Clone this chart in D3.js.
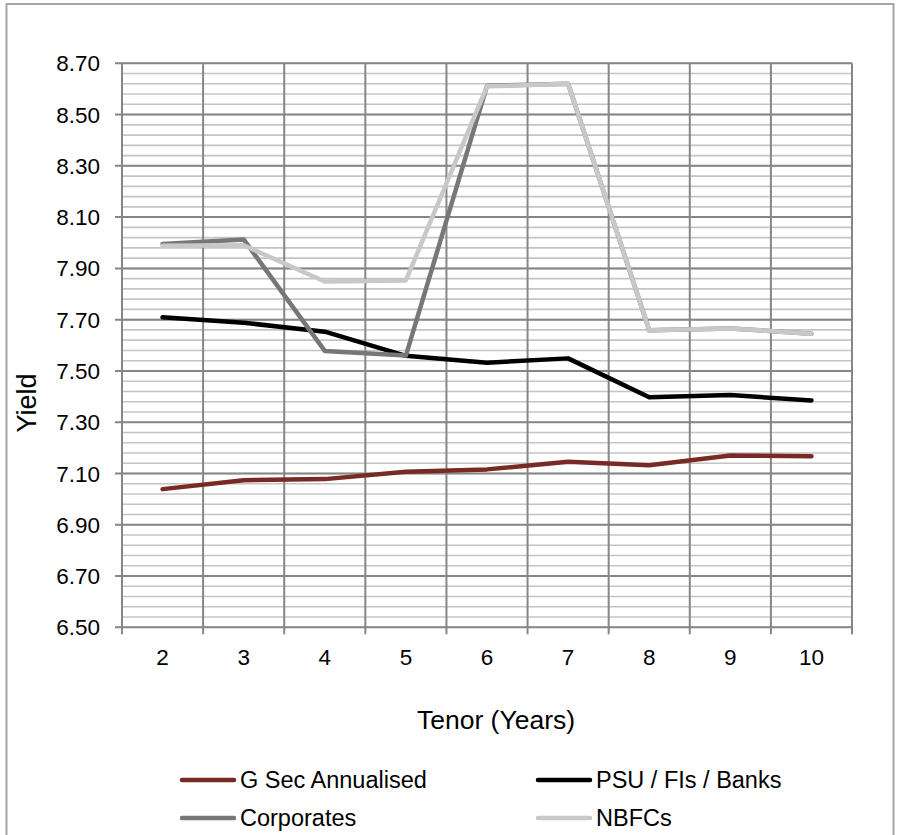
<!DOCTYPE html>
<html><head><meta charset="utf-8">
<script src="https://cdn.jsdelivr.net/npm/d3@7"></script>
<style>body{margin:0;background:#fff}svg{display:block;font-family:"Liberation Sans",Arial,sans-serif}</style>
</head><body><svg id="c" width="897" height="835"></svg>
<script>
const tenors = [2,3,4,5,6,7,8,9,10];
const gsec = [7.039,7.074,7.078,7.107,7.116,7.146,7.132,7.170,7.167];
const psu = [7.709,7.688,7.653,7.559,7.532,7.549,7.397,7.406,7.385];
const corporates = [7.995,8.013,7.578,7.560,8.612,8.620,7.659,7.666,7.645];
const nbfcs = [7.988,7.990,7.849,7.853,8.610,8.620,7.659,7.666,7.645];
const seriesNames = ["G Sec Annualised","PSU / FIs / Banks","Corporates","NBFCs"];
const seriesColors = ["#7a2a24","#000000","#777777","#c8c8c8"];
const yTicks = [6.5,6.7,6.9,7.1,7.3,7.5,7.7,7.9,8.1,8.3,8.5,8.7];

const svg = d3.select("#c");
svg.append("rect").attr("x",6.5).attr("y",4).attr("width",887).attr("height",845)
  .attr("fill","none").attr("stroke","#a6a6a6").attr("stroke-width",2);

const L=122,R=852,T=63.3,B=627.3;
const x = d3.scaleBand().domain(tenors).range([L,R]);
const y = d3.scaleLinear().domain([6.5,8.7]).range([B,T]);

// minor gridlines
const minor = d3.range(6.5,8.7001,0.04).map(v=>+v.toFixed(2));
svg.append("g").selectAll("line").data(minor).join("line")
  .attr("x1",L).attr("x2",R).attr("y1",d=>y(d)).attr("y2",d=>y(d))
  .attr("stroke","#c4c4c4").attr("stroke-width",1.6);
// major gridlines
svg.append("g").selectAll("line").data(yTicks).join("line")
  .attr("x1",L-7).attr("x2",R).attr("y1",d=>y(d)).attr("y2",d=>y(d))
  .attr("stroke","#868686").attr("stroke-width",2);
// vertical gridlines at category boundaries
const bounds = tenors.map(t=>x(t)).concat([R]);
svg.append("g").selectAll("line").data(bounds).join("line")
  .attr("x1",d=>d).attr("x2",d=>d).attr("y1",T).attr("y2",B+7)
  .attr("stroke","#868686").attr("stroke-width",2);

// y tick labels
svg.append("g").selectAll("text").data(yTicks).join("text")
  .attr("x",100).attr("y",d=>y(d)).attr("dy","0.36em").attr("text-anchor","end")
  .attr("font-size",22.5).attr("fill","#000").text(d=>d.toFixed(2));
// x tick labels
svg.append("g").selectAll("text").data(tenors).join("text")
  .attr("x",d=>x(d)+x.bandwidth()/2).attr("y",665).attr("text-anchor","middle")
  .attr("font-size",22.5).attr("fill","#000").text(d=>d);

// axis titles
svg.append("text").attr("x",496).attr("y",729).attr("text-anchor","middle")
  .attr("font-size",26.5).text("Tenor (Years)");
svg.append("text").attr("transform","translate(36,403) rotate(-90)").attr("text-anchor","middle")
  .attr("font-size",27).text("Yield");

// lines
const data = [gsec,psu,corporates,nbfcs];
const line = d3.line().x((d,i)=>x(tenors[i])+x.bandwidth()/2).y(d=>y(d));
svg.append("g").selectAll("path").data(data).join("path")
  .attr("d",line).attr("fill","none").attr("stroke",(d,i)=>seriesColors[i])
  .attr("stroke-width",4.5).attr("stroke-linejoin","round").attr("stroke-linecap","round");

// legend
const legPos = [[182,780],[538,780],[182,818],[538,818]];
const lg = svg.append("g").selectAll("g").data(seriesNames).join("g")
  .attr("transform",(d,i)=>`translate(${legPos[i][0]},${legPos[i][1]})`);
lg.append("line").attr("x1",0).attr("x2",52).attr("y1",0).attr("y2",0)
  .attr("stroke",(d,i)=>seriesColors[i]).attr("stroke-width",4.5).attr("stroke-linecap","round");
lg.append("text").attr("x",58).attr("y",0).attr("dy","0.36em").attr("font-size",23.5).text(d=>d);
</script></body></html>
